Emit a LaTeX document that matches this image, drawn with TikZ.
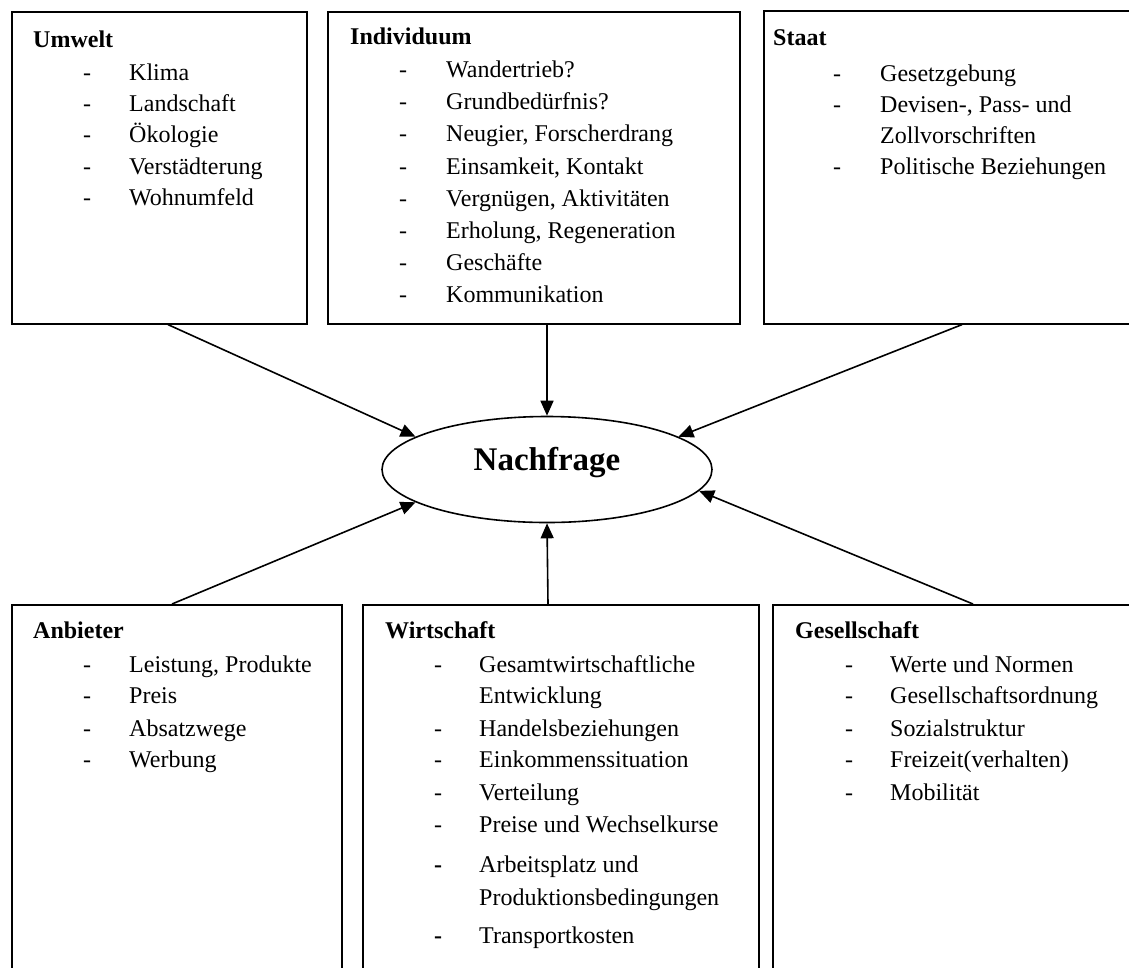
\documentclass[tikz,border=0pt]{standalone}
\usepackage{fontspec}
\setmainfont{Liberation Serif}
\usetikzlibrary{shapes.geometric,arrows.meta,calc}
\newcommand\myitem[6][-]{%
  \node[itm] (#2d) at (#3,#5) {#1};
  \node[itm] (#2) at (#4,#5) {#6};}
\begin{document}
\begin{tikzpicture}[x=1pt,y=-1pt,
  box/.style={draw, line width=1.6pt, inner sep=0pt, anchor=north west},
  ttl/.style={anchor=base west, inner sep=0pt, font=\fontsize{24}{28}\selectfont\bfseries},
  itm/.style={anchor=base west, inner sep=0pt, font=\fontsize{24}{28}\selectfont},
  arr/.style={line width=1.6pt, -{Triangle[length=15pt,width=13pt]}}]
\useasboundingbox (0,0) rectangle (1129,967);
\fill[white] (0,0) rectangle (1129,967);
\clip (0,0) rectangle (1129,967);

% boxes
\node[box, minimum width=295pt, minimum height=312pt] (umwelt) at (11,11) {};
\node[box, minimum width=412pt, minimum height=312pt] (indiv) at (327,11) {};
\node[box, minimum width=380pt, minimum height=313pt] (staat) at (763,10) {};
\node[box, minimum width=330pt, minimum height=380pt] (anb) at (11,604) {};
\node[box, minimum width=396pt, minimum height=380pt] (wirt) at (362,604) {};
\node[box, minimum width=380pt, minimum height=380pt] (ges) at (772,604) {};

% ellipse
\node[ellipse, draw, line width=1.6pt, minimum width=330pt, minimum height=106pt, inner sep=0pt] (nach) at (547,469.5) {};
\node[anchor=base, inner sep=0pt, font=\fontsize{33}{38}\selectfont\bfseries] (nachl) at (547,470) {Nachfrage};

% Umwelt
\node[ttl] (ut) at (33,47) {Umwelt};
\myitem{u1}{83}{129}{80}{Klima}
\myitem{u2}{83}{129}{111}{Landschaft}
\myitem{u3}{83}{129}{142}{Ökologie}
\myitem{u4}{83}{129}{174}{Verstädterung}
\myitem{u5}{83}{129}{205}{Wohnumfeld}

% Individuum
\node[ttl] (it) at (350,44) {Individuum};
\myitem{i1}{399}{446}{77}{Wandertrieb?}
\myitem{i2}{399}{446}{109}{Grundbedürfnis?}
\myitem{i3}{399}{446}{141}{Neugier, Forscherdrang}
\myitem{i4}{399}{446}{174}{Einsamkeit, Kontakt}
\myitem{i5}{399}{446}{206}{Vergnügen, Aktivitäten}
\myitem{i6}{399}{446}{238}{Erholung, Regeneration}
\myitem{i7}{399}{446}{270}{Geschäfte}
\myitem{i8}{399}{446}{302}{Kommunikation}

% Staat
\node[ttl] (st) at (773,45) {Staat};
\myitem{s1}{833}{880}{81}{Gesetzgebung}
\myitem{s2}{833}{880}{112}{Devisen-, Pass- und}
\node[itm] (s2b) at (880,143) {Zollvorschriften};
\myitem{s3}{833}{880}{174}{Politische Beziehungen}

% Anbieter
\node[ttl] (at) at (33,638) {Anbieter};
\myitem{a1}{83}{129}{672}{Leistung, Produkte}
\myitem{a2}{83}{129}{703}{Preis}
\myitem{a3}{83}{129}{736}{Absatzwege}
\myitem{a4}{83}{129}{767}{Werbung}

% Wirtschaft
\node[ttl] (wt) at (385,638) {Wirtschaft};
\myitem{w1}{434}{479}{672}{Gesamtwirtschaftliche}
\node[itm] (w1b) at (479,703) {Entwicklung};
\myitem{w2}{434}{479}{736}{Handelsbeziehungen}
\myitem{w3}{434}{479}{767}{Einkommenssituation}
\myitem{w4}{434}{479}{800}{Verteilung}
\myitem{w5}{434}{479}{832}{Preise und Wechselkurse}
\myitem[\textbf{-}]{w6}{434}{479}{872}{Arbeitsplatz und}
\node[itm] (w6b) at (479,905) {Produktionsbedingungen};
\myitem[\textbf{-}]{w7}{434}{479}{943}{Transportkosten}

% Gesellschaft
\node[ttl] (gt) at (795,638) {Gesellschaft};
\myitem{g1}{845}{890}{672}{Werte und Normen}
\myitem{g2}{845}{890}{703}{Gesellschaftsordnung}
\myitem{g3}{845}{890}{736}{Sozialstruktur}
\myitem{g4}{845}{890}{767}{Freizeit(verhalten)}
\myitem{g5}{845}{890}{800}{Mobilität}

% arrows
\draw[arr] ($(umwelt.south west)+(157,0)$) -- (nach.166);
\draw[arr] ($(indiv.south west)+(220,0)$) -- (nach.north);
\draw[arr] ($(staat.south west)+(199,0)$) -- (nach.14);
\draw[arr] ($(anb.north west)+(161,0)$) -- (nach.194);
\draw[arr] ($(wirt.north west)+(186,0)$) -- (nach.south);
\draw[arr] ($(ges.north west)+(201,0)$) -- (nach.352);
\end{tikzpicture}
\end{document}
